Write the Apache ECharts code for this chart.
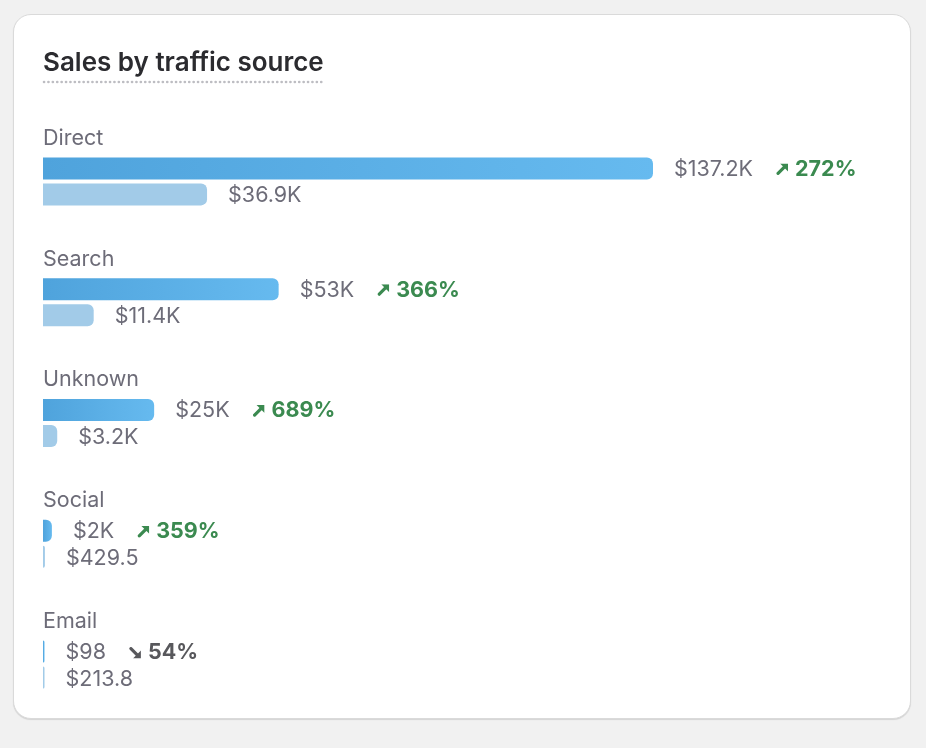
<!DOCTYPE html>
<html>
<head>
<meta charset="utf-8">
<script src="https://cdn.jsdelivr.net/npm/echarts@6/dist/echarts.min.js"></script>
<style>
  html, body { margin: 0; padding: 0; background: #f1f1f1; }
  #card {
    position: absolute; left: 13px; top: 14px; width: 896px; height: 703px;
    background: #fff; border: 1px solid #dadada; border-radius: 18px;
    box-shadow: 0 1px 1px rgba(0,0,0,0.12);
  }
  #chart { position: absolute; left: 0; top: 0; width: 926px; height: 748px; }
</style>
</head>
<body>
<div id="card"></div>
<div id="chart"></div>
<script>
// data
const categories = ['Direct', 'Search', 'Unknown', 'Social', 'Email'];
const currentSales = [137200, 53000, 25000, 2000, 98];
const previousSales = [36900, 11400, 3200, 429.5, 213.8];
const changePct = [272, 366, 689, 359, -54];

const fmt = (v) => {
  if (v >= 1000) return '$' + Math.round(v / 100) / 10 + 'K';
  return '$' + v;
};

const labelGray = '#6d6c78';
const green = '#3b8a50';
const darkGray = '#58585c';
const font = 'Inter, "Noto Sans", sans-serif';

// small bold arrow icons
const arrowSvg = (color, down) => {
  const path = down
    ? '<path d="M2 2 L8.5 8.5" stroke="' + color + '" stroke-width="3.2" stroke-linecap="round"/>' +
      '<path d="M12 4 L12 12 L4 12 Z" fill="' + color + '"/>'
    : '<path d="M2 10 L8.5 3.5" stroke="' + color + '" stroke-width="3.2" stroke-linecap="round"/>' +
      '<path d="M4 0 L12 0 L12 8 Z" fill="' + color + '"/>';
  return 'data:image/svg+xml;charset=utf-8,' + encodeURIComponent(
    '<svg xmlns="http://www.w3.org/2000/svg" width="12" height="12" viewBox="0 0 12 12">' + path + '</svg>');
};

const chart = echarts.init(document.getElementById('chart'));

const option = {
  animation: false,
  textStyle: { fontFamily: font },
  graphic: [
    {
      type: 'text',
      left: 43,
      top: 50,
      style: {
        text: 'Sales by traffic source',
        font: '600 26px ' + font,
        fill: '#2b2b2f'
      }
    },
    {
      type: 'line',
      shape: { x1: 44, y1: 82, x2: 324, y2: 82 },
      style: { stroke: '#bdbdc2', lineWidth: 2.6, lineDash: [0.1, 4.3], lineCap: 'round' }
    }
  ],
  grid: { left: 43, width: 610, top: 121, height: 604 },
  xAxis: { type: 'value', min: 0, max: 137200, show: false },
  yAxis: {
    type: 'category',
    inverse: true,
    data: categories,
    axisLine: { show: false },
    axisTick: { show: false },
    splitLine: { show: false },
    axisLabel: {
      inside: true,
      margin: 0,
      fontSize: 21.5,
      color: labelGray,
      fontFamily: font,
      verticalAlign: 'bottom',
      lineHeight: 26,
      padding: [0, 0, 30, 0]
    }
  },
  series: [
    {
      type: 'bar',
      name: 'Current',
      data: currentSales,
      barWidth: 22,
      barGap: '18%',
      barMinHeight: 1.5,
      itemStyle: {
        borderRadius: [0, 6, 6, 0],
        color: new echarts.graphic.LinearGradient(0, 0, 1, 0, [
          { offset: 0, color: '#4fa3dc' },
          { offset: 1, color: '#66baef' }
        ])
      },
      label: {
        show: true,
        position: 'right',
        distance: 21,
        offset: [0, 1],
        formatter: (p) => {
          const c = changePct[p.dataIndex];
          const up = c >= 0;
          return '{v|' + fmt(p.value) + '}' +
            (up ? '{au|}{pu|' + c + '%}' : '{ad|}{pd|' + Math.abs(c) + '%}');
        },
        rich: {
          v: { fontSize: 21.5, color: labelGray, fontFamily: font, padding: [0, 23, 0, 0] },
          au: { width: 12, height: 12, backgroundColor: { image: arrowSvg(green, false) } },
          pu: { fontSize: 21.5, fontWeight: 'bold', color: green, fontFamily: font, padding: [0, 0, 0, 7] },
          ad: { width: 12, height: 12, backgroundColor: { image: arrowSvg(darkGray, true) } },
          pd: { fontSize: 21.5, fontWeight: 'bold', color: darkGray, fontFamily: font, padding: [0, 0, 0, 7] }
        }
      }
    },
    {
      type: 'bar',
      name: 'Previous',
      data: previousSales,
      barWidth: 22,
      barMinHeight: 1.5,
      itemStyle: {
        borderRadius: [0, 6, 6, 0],
        color: '#a2cbe8'
      },
      label: {
        show: true,
        position: 'right',
        distance: 21,
        offset: [0, 1.5],
        fontSize: 21.5,
        color: labelGray,
        fontFamily: font,
        formatter: (p) => fmt(p.value)
      }
    }
  ]
};

chart.setOption(option);
window.addEventListener('resize', () => chart.resize());
</script>
</body>
</html>
